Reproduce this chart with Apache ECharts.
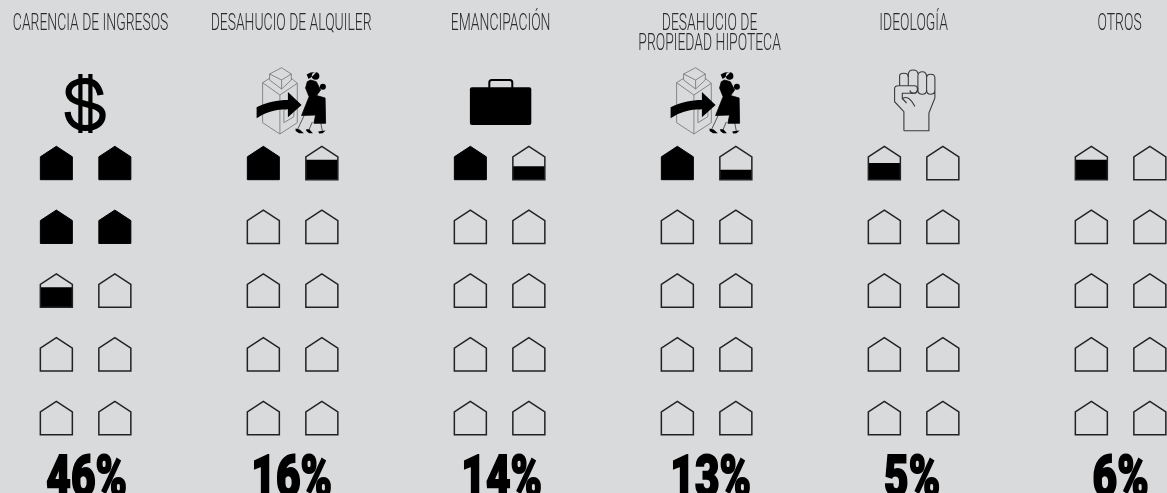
<!DOCTYPE html>
<html><head><meta charset="utf-8">
<style>html,body{margin:0;padding:0;background:#d9dadc;overflow:hidden}#c{width:1167px;height:493px}</style>
<script src="https://cdn.jsdelivr.net/npm/echarts@6/dist/echarts.min.js"></script>
</head><body><div id="c"></div>
<script>
const categories = ['CARENCIA DE INGRESOS','DESAHUCIO DE ALQUILER','EMANCIPACIÓN','DESAHUCIO DE\nPROPIEDAD HIPOTECA','IDEOLOGÍA','OTROS'];
const percentages = [46,16,14,13,5,6];
const percentPerHouse = 10;
const housesPerColumn = 10;
const icons = ['dollar','evict','case','evict','fist',null];
const titleNudge = [5,-1.5,1,3,0,-1];
const valueNudge = [1,-1,2,4,-1.5,0];

const INK='#000', LINE='#222', GREY='#7d7d7d';
const HW=16, HH=33.4, SH=10.5, SLOT=29.25;
const iconParts = {
  dollar:[
    {d:'M15 95 C13 85,7 81,0 81 C-10 81,-17 85,-17 92 C-17 100,-8 102,0 104 C9 106,17 108,17 115 C17 123,10 128,0 128 C-10 128,-17 122,-18 112',stroke:INK,w:6.2},
    {d:'M-7.3 74 h4.2 v59 h-4.2 Z M2.7 74 h4.2 v59 h-4.2 Z',fill:INK}
  ],
  case:[
    {d:'M-27.7 87.3 H29.7 Q31.7 87.3 31.7 89.3 V123 Q31.7 125 29.7 125 H-27.7 Q-29.7 125 -29.7 123 V89.3 Q-29.7 87.3 -27.7 87.3 Z',fill:INK},
    {d:'M-10.3 88 V82.5 Q-10.3 80 -7.8 80 H10.2 Q12.7 80 12.7 82.5 V88',stroke:INK,w:2}
  ],
  fist:[
    {d:'M-9.7 130.7 H15.3 V113 L21.3 98 V78 C21.3 75,19 74.3,17 74.3 C15,74.3 13 75.5 13 78 V90 C13 92.5 14.5 94.3 17 94.3 C19.5 94.3 21.3 92.5 21.3 90',stroke:'#3a3a3a',w:1.1},
    {d:'M13 77 C13 73,11 71.7,8.7 71.7 C6 71.7,4.3 73.5,4.3 76 V90 C4.3 93,6.5 94.3,8.7 94.3 C11 94.3,13 93,13 90',stroke:'#3a3a3a',w:1.1},
    {d:'M4.3 74 C4.3 71,2 70,-0.5 70 C-3.5 70,-5.3 71.5,-5.3 75 V85.7 M4.3 88 C4 91.5,2 93.3,0 93.3 C-2 93.3,-3.2 92.3,-3.8 90.5',stroke:'#3a3a3a',w:1.1},
    {d:'M-14 85.7 V76 C-14 74,-12 73.3,-9.7 73.3 C-7 73.3,-5.3 74.5,-5.3 77',stroke:'#3a3a3a',w:1.1},
    {d:'M-9.7 130.7 V111.7 L-19 101.7 V88.5 C-19 86.5,-17.5 85.7,-15 85.7 H1 C3 85.7,3.8 87,3.8 88.5 V90 C3.8 92,2.5 93.3,0.5 93.3 H-11.3 V98.5 C-7 96,-3.5 97.5,1.3 106.5 M-11.3 98.5 L-7 103',stroke:'#3a3a3a',w:1.1}
  ],
  evict:[
    {d:'M-11 67.7 L-1.3 74 L-11 80 L-23 74 Z M-23 74 V80 L-11 89 L-1.3 80 V74 M-11 80 V89 M-23 78.3 L-30 82.7 V122.7 L-12.7 134 L4.7 122.7 V83.3 L-1.3 78.3 M-30 82.7 L-12.7 95 L4.7 83.3 M-12.7 95 V134 M-8.7 110 L1.3 106 V116.7 L-8.7 122.7 Z',stroke:GREY,w:0.9},
    {d:'M-36 107.3 C-26 102,-15 100,-4.7 100 L-4.7 92 L9 105 L-4.7 117.3 L-4.7 109.3 C-15 109,-27 112,-36 118.3 Z',fill:INK},
    {d:'M11.3 116 L4.7 130 M19.7 122 L16.3 130 M28 122 L29.7 131',stroke:'#555',w:1},
    {d:'M3 128.5 L7 129.5 L11.3 133.3 L6.5 133.3 L3 131 Z M13.7 129 L17 129.5 L20.3 133.3 L16.5 133.3 L13.7 131 Z M25.7 131.5 L28.5 131 L33 130.5 L30 133.3 L26.5 133.5 Z',fill:INK},
    {d:'M14.7 81.7 L18 80 L23.7 81.7 L28 90 L24 95.5 L32.5 98 L33 123.3 L21.3 123.3 L23 115 L9 115.5 L16.5 96.7 L13 88 Z',fill:INK,stroke:INK,w:0.8},
    {d:'M19.2 76 a3.8 3.8 0 1 0 7.6 0 a3.8 3.8 0 1 0 -7.6 0 Z M14 74.5 L18 72.5 L24 72 L19 77 L16 79 Z M27.3 86.7 a3 3 0 1 0 6 0 a3 3 0 1 0 -6 0 Z',fill:INK}
  ]
};
function pathEl(p){
  const r = echarts.graphic.makePath(p.d,{}).getBoundingRect();
  return {type:'path',shape:{pathData:p.d,layout:'cover',x:r.x,y:r.y,width:r.width,height:r.height},
    style:{fill:p.fill||'none',stroke:p.stroke||'none',lineWidth:p.w||0}};
}
const houseData=[];
percentages.forEach((v,col)=>{
  for(let k=0;k<housesPerColumn;k++){
    const fill=Math.max(0,Math.min(1,(v-k*percentPerHouse)/percentPerHouse));
    houseData.push([col,Math.floor(k/2),k%2?1:-1,fill]);
  }
});
function renderHouse(params,api){
  const p=api.coord([api.value(0),api.value(1)]);
  const cx=p[0]+api.value(2)*SLOT, by=p[1], f=api.value(3);
  const outline=[[cx-HW,by],[cx-HW,by-HH+SH],[cx,by-HH],[cx+HW,by-HH+SH],[cx+HW,by]];
  const kids=[];
  if(f>=1){
    kids.push({type:'polygon',shape:{points:outline},style:{fill:INK,stroke:INK,lineWidth:1}});
  }else{
    if(f>0) kids.push({type:'rect',shape:{x:cx-HW,y:by-HH*f,width:2*HW,height:HH*f},style:{fill:INK}});
    kids.push({type:'polygon',shape:{points:outline},style:{fill:'none',stroke:LINE,lineWidth:1.5}});
  }
  return {type:'group',children:kids};
}
function renderTitle(params,api){
  const i=api.value(0), p=api.coord([i,0]);
  return {type:'group',children:categories[i].split('\n').map((line,n)=>({
    type:'text',x:p[0]+titleNudge[i],y:12.5+n*19.5,scaleX:0.592,
    style:{text:line,x:0,y:0,align:'center',verticalAlign:'top',
      font:'300 23.5px Roboto',fill:'#2a2a2a'}}))};
}
function renderValue(params,api){
  const i=api.value(0), p=api.coord([i,0]);
  return {type:'text',x:p[0]+valueNudge[i],y:452,scaleX:0.73,
    style:{text:percentages[i]+'%',x:0,y:0,align:'center',verticalAlign:'top',
      font:'900 58px Roboto',fill:INK,stroke:INK,lineWidth:2}};
}
function renderIcon(params,api){
  const i=api.value(0), p=api.coord([i,0]), name=icons[i];
  if(!name) return {type:'group',children:[]};
  return {type:'group',x:p[0],y:0,children:iconParts[name].map(pathEl)};
}
const columns=categories.map((c,i)=>[i]);
const custom=(renderItem,data)=>({type:'custom',renderItem,data,clip:false,silent:true,animation:false,coordinateSystem:'cartesian2d'});
echarts.init(document.getElementById('c'),null,{renderer:'canvas'}).setOption({
  backgroundColor:'#d9dadc',animation:false,
  grid:{left:85.6,top:179.7,width:1035,height:255},
  xAxis:{type:'category',data:categories,boundaryGap:false,show:false},
  yAxis:{type:'value',min:0,max:4,inverse:true,show:false},
  series:[custom(renderHouse,houseData),custom(renderIcon,columns),custom(renderTitle,columns),custom(renderValue,columns)]
});
</script></body></html>
